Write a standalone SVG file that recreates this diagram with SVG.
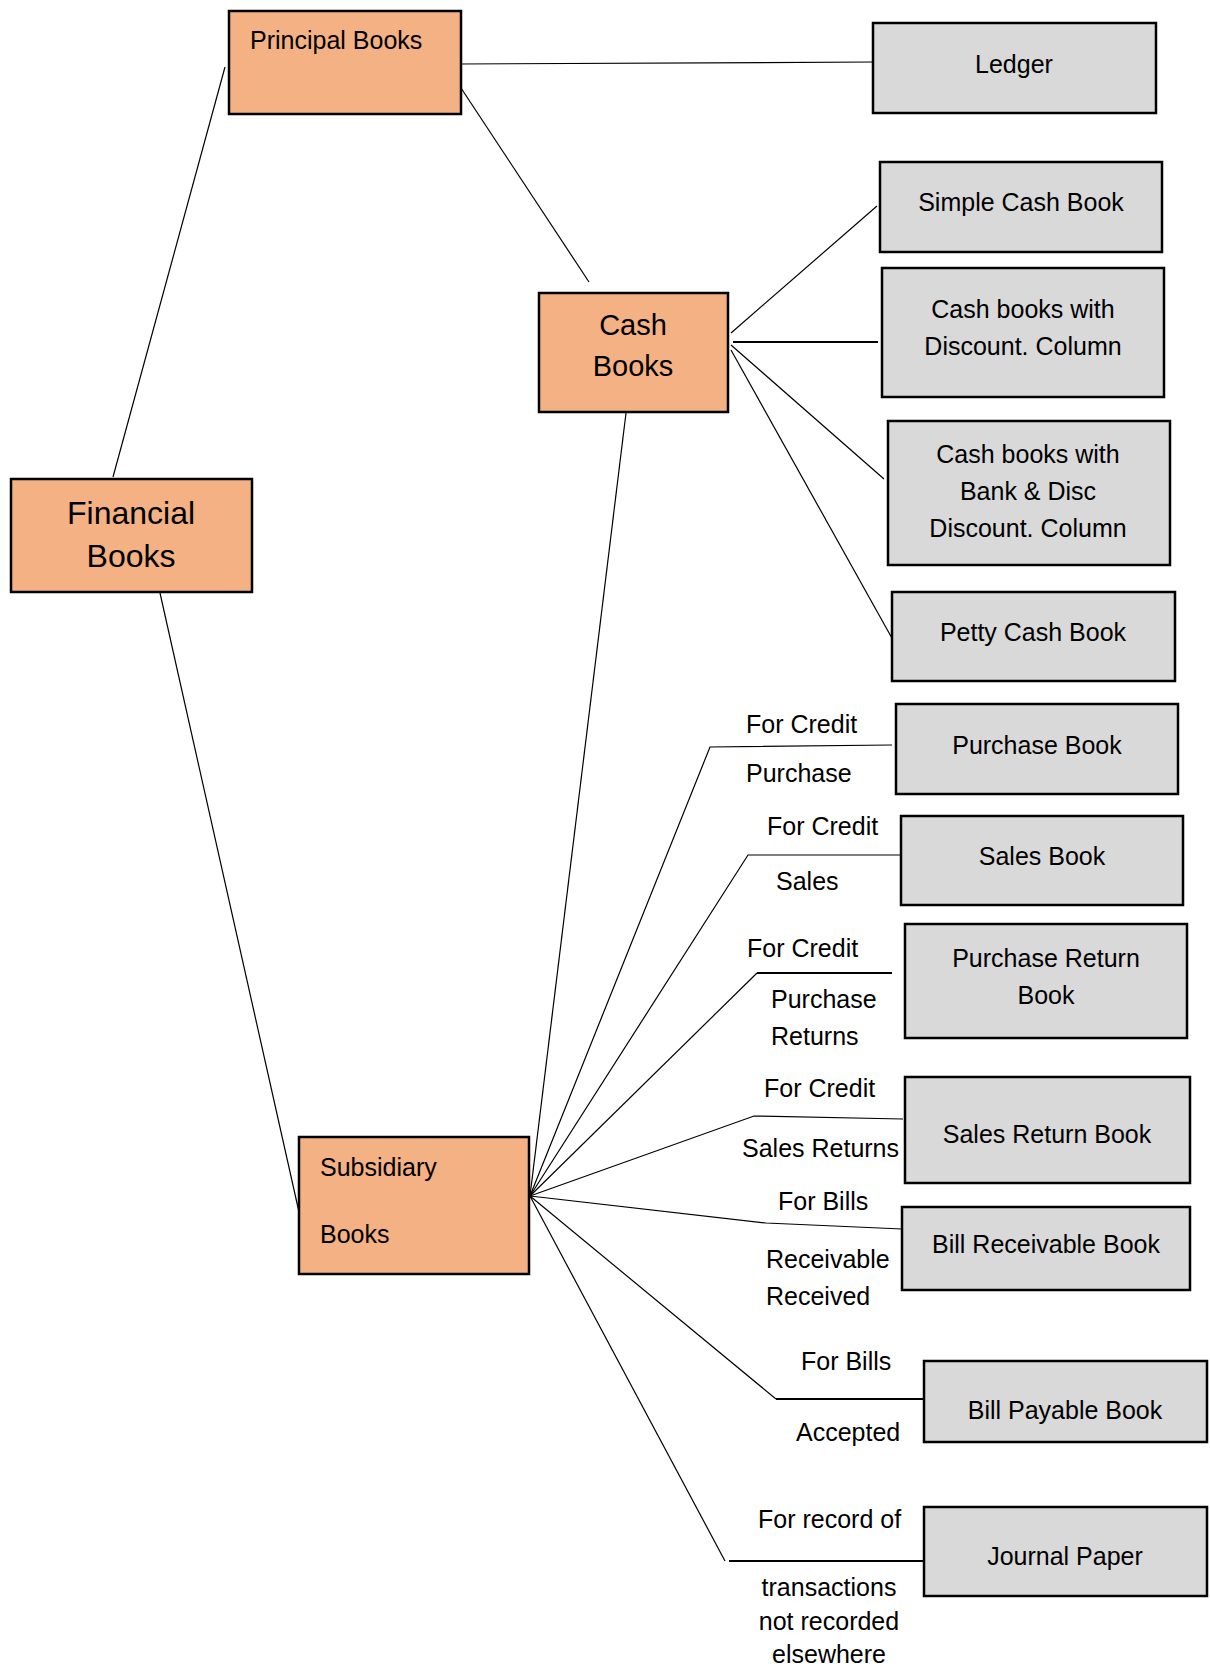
<svg xmlns="http://www.w3.org/2000/svg" width="1210" height="1669" viewBox="0 0 1210 1669">
<style>
.o{fill:#F4B183;stroke:#000;stroke-width:2.5}
.g{fill:#D9D9D9;stroke:#000;stroke-width:2.5}
text{font-family:"Liberation Sans",Arial,sans-serif;font-size:25px;fill:#000}
.c{text-anchor:middle}
.big{font-size:29px}
.fin{font-size:32px}
#connectors line,#connectors polyline{stroke:#000;stroke-width:1.2;fill:none}
#connectors .t{stroke-width:2}
</style>
<rect width="1210" height="1669" fill="#fff"/>
<g id="connectors">
<line x1="113" y1="477" x2="225" y2="67"/>
<line x1="160" y1="593" x2="299" y2="1212"/>
<line x1="458" y1="64" x2="874" y2="62"/>
<line x1="461" y1="88" x2="589" y2="282"/>
<line x1="626" y1="413" x2="530" y2="1196"/>
<line x1="731" y1="333" x2="877" y2="206"/>
<line class="t" x1="733" y1="342" x2="878" y2="342"/>
<line x1="731" y1="345" x2="884" y2="479"/>
<line x1="731" y1="350" x2="893" y2="640"/>
<polyline points="530,1196 710,747 892,745"/>
<polyline points="530,1196 748,855 901,855"/>
<polyline points="530,1196 757,973"/>
<line class="t" x1="757" y1="973" x2="892" y2="973"/>
<polyline points="530,1196 754,1116 903,1119"/>
<polyline points="530,1196 766,1223 902,1229"/>
<polyline points="530,1196 776,1399"/>
<line class="t" x1="776" y1="1399" x2="924" y2="1399"/>
<line x1="530" y1="1196" x2="725" y2="1561"/>
<line class="t" x1="729" y1="1561" x2="924" y2="1561"/>
</g>
<g id="principal"><rect class="o" x="229" y="11" width="232" height="103"/><text x="250" y="49">Principal Books</text></g>
<g id="financial"><rect class="o" x="11" y="479" width="241" height="113"/><text class="c fin" x="131" y="524">Financial</text><text class="c fin" x="131" y="567">Books</text></g>
<g id="cash"><rect class="o" x="539" y="293" width="189" height="119"/><text class="c big" x="633" y="335">Cash</text><text class="c big" x="633" y="376">Books</text></g>
<g id="subsidiary"><rect class="o" x="299" y="1137" width="230" height="137"/><text x="320" y="1176">Subsidiary</text><text x="320" y="1243">Books</text></g>
<g id="ledger"><rect class="g" x="873" y="23" width="283" height="90"/><text class="c" x="1014" y="73">Ledger</text></g>
<g id="simple"><rect class="g" x="880" y="162" width="282" height="90"/><text class="c" x="1021" y="211">Simple Cash Book</text></g>
<g id="discount"><rect class="g" x="882" y="268" width="282" height="129"/><text class="c" x="1023" y="318">Cash books with</text><text class="c" x="1023" y="355">Discount. Column</text></g>
<g id="bankdisc"><rect class="g" x="888" y="421" width="282" height="144"/><text class="c" x="1028" y="463">Cash books with</text><text class="c" x="1028" y="500">Bank &amp; Disc</text><text class="c" x="1028" y="537">Discount. Column</text></g>
<g id="petty"><rect class="g" x="892" y="592" width="283" height="89"/><text class="c" x="1033" y="641">Petty Cash Book</text></g>
<g id="purchase"><rect class="g" x="896" y="704" width="282" height="90"/><text class="c" x="1037" y="754">Purchase Book</text></g>
<g id="sales"><rect class="g" x="901" y="816" width="282" height="89"/><text class="c" x="1042" y="865">Sales Book</text></g>
<g id="purchasereturn"><rect class="g" x="905" y="924" width="282" height="114"/><text class="c" x="1046" y="967">Purchase Return</text><text class="c" x="1046" y="1004">Book</text></g>
<g id="salesreturn"><rect class="g" x="905" y="1077" width="285" height="106"/><text class="c" x="1047" y="1143">Sales Return Book</text></g>
<g id="billrec"><rect class="g" x="902" y="1207" width="288" height="83"/><text class="c" x="1046" y="1253">Bill Receivable Book</text></g>
<g id="billpay"><rect class="g" x="924" y="1361" width="283" height="81"/><text class="c" x="1065" y="1419">Bill Payable Book</text></g>
<g id="journal"><rect class="g" x="924" y="1507" width="283" height="89"/><text class="c" x="1065" y="1565">Journal Paper</text></g>
<g id="labels">
<text x="746" y="733">For Credit</text><text x="746" y="782">Purchase</text>
<text x="767" y="835">For Credit</text><text x="776" y="890">Sales</text>
<text x="747" y="957">For Credit</text><text x="771" y="1008">Purchase</text><text x="771" y="1045">Returns</text>
<text x="764" y="1097">For Credit</text><text x="742" y="1157">Sales Returns</text>
<text x="778" y="1210">For Bills</text><text x="766" y="1268">Receivable</text><text x="766" y="1305">Received</text>
<text x="801" y="1370">For Bills</text><text x="796" y="1441">Accepted</text>
<text x="758" y="1528">For record of</text><text class="c" x="829" y="1596">transactions</text><text class="c" x="829" y="1630">not recorded</text><text class="c" x="829" y="1663">elsewhere</text>
</g>
</svg>
